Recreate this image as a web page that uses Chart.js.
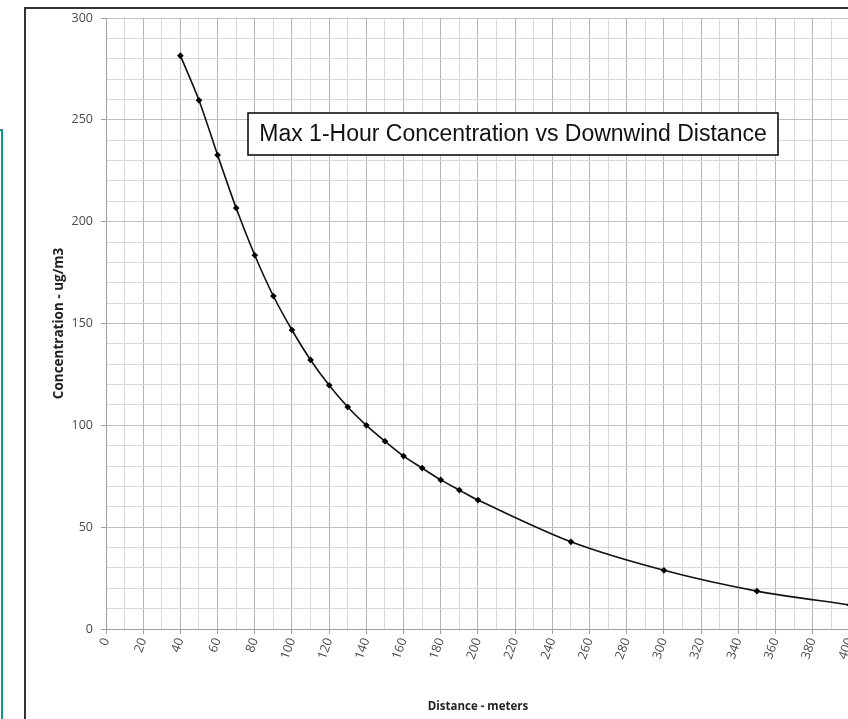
<!DOCTYPE html>
<html>
<head>
<meta charset="utf-8">
<script src="https://cdn.jsdelivr.net/npm/chart.js@4/dist/chart.umd.min.js"></script>
<style>
  html, body { margin: 0; padding: 0; background: #fff; overflow: hidden; width: 848px; height: 719px; }
  #frame { position: absolute; left: 24px; top: 7px; width: 900px; height: 800px; border: 2px solid #333; box-sizing: border-box; }
  #side { position: absolute; left: -20px; top: 129px; width: 23px; height: 700px; border: 2px solid #0f9a85; box-sizing: border-box; }
  #wrap { position: absolute; left: 0; top: 0; width: 866px; height: 719px; }
</style>
</head>
<body>
<div id="side"></div>
<div id="frame"></div>
<div id="wrap"><canvas id="concChart"></canvas></div>
<script>
const distances = [40, 50, 60, 70, 80, 90, 100, 110, 120, 130, 140, 150, 160, 170, 180, 190, 200, 250, 300, 350, 400];
const concentrations = [281.5, 259.6, 232.7, 206.7, 183.5, 163.5, 146.8, 132.1, 119.7, 109.0, 100.0, 92.2, 84.9, 79.0, 73.2, 68.2, 63.3, 42.8, 28.8, 18.6, 11.8];
const xTickLabels = [0, 20, 40, 60, 80, 100, 120, 140, 160, 180, 200, 220, 240, 260, 280, 300, 320, 340, 360, 380, 400];
const yTickLabels = [0, 50, 100, 150, 200, 250, 300];
const chartTitle = 'Max 1-Hour Concentration vs Downwind Distance';

const titleBox = {
  id: 'titleBox',
  afterDatasetsDraw(chart) {
    const a = chart.chartArea;
    const c = chart.ctx;
    const x = a.left + 142, y = a.top + 95, w = 530, h = 42;
    c.save();
    c.fillStyle = '#fff';
    c.fillRect(x, y, w, h);
    c.strokeStyle = '#000';
    c.lineWidth = 1.5;
    c.strokeRect(x, y, w, h);
    c.fillStyle = '#111';
    c.font = '23px "Liberation Sans", Arial, sans-serif';
    c.textAlign = 'center';
    c.textBaseline = 'middle';
    c.fillText(chartTitle, x + w / 2, y + h / 2 + 1);
    c.restore();
  }
};

const tickFont = { family: '"Open Sans", sans-serif', size: 12.5 };

new Chart(document.getElementById('concChart').getContext('2d'), {
  type: 'line',
  data: {
    datasets: [{
      data: distances.map((d, i) => ({ x: d, y: concentrations[i] })),
      borderColor: '#111',
      borderWidth: 1.6,
      tension: 0.3,
      pointStyle: 'rectRot',
      pointRadius: 2.2,
      pointBackgroundColor: '#000',
      pointBorderColor: '#000',
      fill: false
    }]
  },
  options: {
    responsive: true,
    maintainAspectRatio: false,
    animation: false,
    layout: { padding: { top: 18, left: 0, right: 0, bottom: 0 } },
    plugins: { legend: { display: false }, tooltip: { enabled: false } },
    scales: {
      x: {
        type: 'linear',
        min: 0,
        max: 400,
        afterFit: s => { s.height = 90; },
        ticks: {
          stepSize: 10,
          autoSkip: false,
          minRotation: 70,
          maxRotation: 70,
          color: '#4a4a4a',
          font: tickFont,
          padding: 2,
          callback: v => xTickLabels.includes(v) ? String(v) : ''
        },
        grid: {
          color: c => c.tick && c.tick.value % 20 === 0 ? '#b5b5b5' : '#d8d8d8',
          tickColor: c => c.tick && c.tick.value % 20 === 0 ? '#a0a0a0' : 'rgba(0,0,0,0)',
          tickLength: 5
        },
        border: { color: '#a0a0a0' },
        title: {
          display: true,
          text: 'Distance - meters',
          color: '#222',
          font: { family: '"Open Sans", sans-serif', size: 11.5, weight: 'bold' },
          padding: { top: 0, bottom: 5 }
        }
      },
      y: {
        min: 0,
        max: 300,
        afterFit: s => { s.width = 106; },
        ticks: {
          stepSize: 10,
          autoSkip: false,
          color: '#4a4a4a',
          font: tickFont,
          padding: 8,
          callback: v => yTickLabels.includes(v) ? String(v) : ''
        },
        grid: {
          color: c => c.tick && c.tick.value % 50 === 0 ? '#c0c0c0' : '#d8d8d8',
          tickColor: c => c.tick && c.tick.value % 50 === 0 ? '#a0a0a0' : 'rgba(0,0,0,0)',
          tickLength: 5
        },
        border: { color: '#a0a0a0' },
        title: {
          display: true,
          text: 'Concentration - ug/m3',
          color: '#222',
          font: { family: '"Open Sans", sans-serif', size: 13.5, weight: 'bold' },
          padding: { top: 51, bottom: 0 }
        }
      }
    }
  },
  plugins: [titleBox]
});
</script>
</body>
</html>
